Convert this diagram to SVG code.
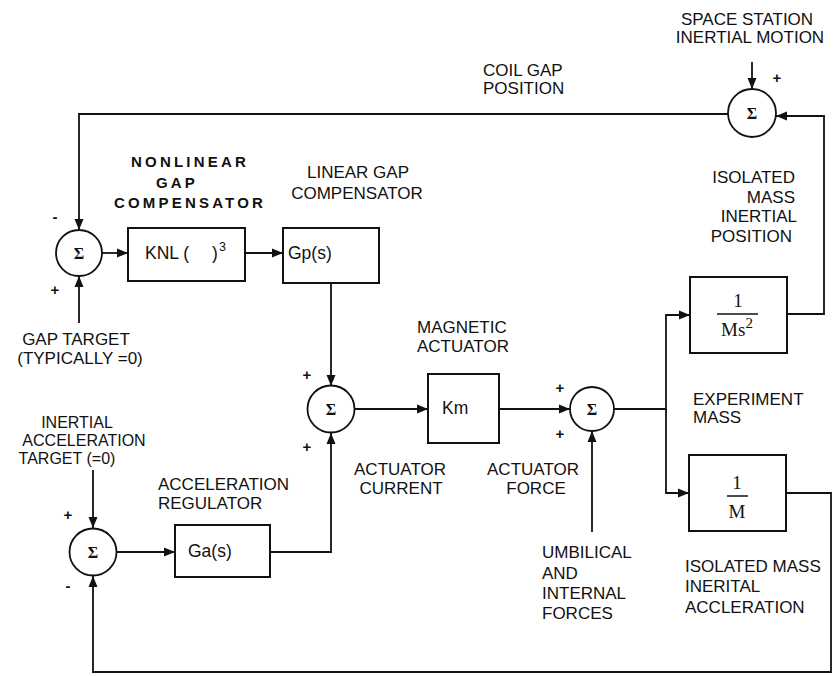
<svg xmlns="http://www.w3.org/2000/svg" width="834" height="676" viewBox="0 0 834 676">
<style>
.bg{fill:#fff}
.box{fill:#fff;stroke:#111;stroke-width:2}
.sum{fill:#fff;stroke:#111;stroke-width:1.8}
.wire{fill:none;stroke:#111;stroke-width:1.8}
.lbl{font-family:"Liberation Sans",Arial,sans-serif;font-size:17px;fill:#111}
.sm{font-size:16px}
.bold{font-family:"Liberation Sans",Arial,sans-serif;font-size:15px;font-weight:bold;letter-spacing:3.2px;fill:#111}
.sig{font-family:"Liberation Serif","Times New Roman",serif;font-size:16px;font-weight:bold;fill:#111;text-anchor:middle}
.pm{font-family:"Liberation Sans",Arial,sans-serif;font-size:15px;font-weight:bold;fill:#111;text-anchor:middle}
.btx{font-family:"Liberation Sans",Arial,sans-serif;font-size:17.5px;fill:#111}
.frac{font-family:"Liberation Serif","Times New Roman",serif;font-size:19px;fill:#111;text-anchor:middle}
.mid{text-anchor:middle}
.end{text-anchor:end}
</style>
<defs>
<marker id="arr" markerUnits="userSpaceOnUse" markerWidth="12" markerHeight="10" refX="11" refY="5" orient="auto">
<path d="M0,0.5 L11,5 L0,9.5 Z" fill="#111"/>
</marker>
</defs>
<rect class="bg" x="0" y="0" width="834" height="676"/>

<g id="connectors">
<path class="wire" d="M728,114 H79 V230" marker-end="url(#arr)"/>
<path class="wire" d="M79,323 V276" marker-end="url(#arr)"/>
<path class="wire" d="M102,253 H128" marker-end="url(#arr)"/>
<path class="wire" d="M245,253 H283" marker-end="url(#arr)"/>
<path class="wire" d="M331,283 V386" marker-end="url(#arr)"/>
<path class="wire" d="M355,409 H428" marker-end="url(#arr)"/>
<path class="wire" d="M499,409 H570" marker-end="url(#arr)"/>
<path class="wire" d="M614,409 H666 V315 H690" marker-end="url(#arr)"/>
<path class="wire" d="M666,409 V493 H689" marker-end="url(#arr)"/>
<path class="wire" d="M592,532 V431" marker-end="url(#arr)"/>
<path class="wire" d="M787,314 H824 V116 H776" marker-end="url(#arr)"/>
<path class="wire" d="M752,62 V89" marker-end="url(#arr)"/>
<path class="wire" d="M786,493 H831 V672 H93 V576" marker-end="url(#arr)"/>
<path class="wire" d="M93,470 V528" marker-end="url(#arr)"/>
<path class="wire" d="M116,552 H175" marker-end="url(#arr)"/>
<path class="wire" d="M270,552 H331 V433" marker-end="url(#arr)"/>
</g>

<g id="sum_gap">
<circle class="sum" cx="79" cy="253" r="23"/>
<text class="sig" x="79" y="258.5">Σ</text>
<text class="pm" x="55" y="222">-</text>
<text class="pm" x="55" y="295">+</text>
</g>

<g id="nonlinear_comp">
<rect class="box" x="128" y="228" width="117" height="53"/>
<text class="btx" x="145" y="259">KNL (<tspan x="212">)</tspan><tspan x="219" y="251" font-size="12.5">3</tspan></text>
<text class="bold mid" x="190" y="167">NONLINEAR</text>
<text class="bold mid" x="177" y="188">GAP</text>
<text class="bold mid" x="190" y="208">COMPENSATOR</text>
</g>

<g id="linear_comp">
<rect class="box" x="283" y="228" width="96" height="55"/>
<text class="btx" x="288" y="259">Gp(s)</text>
<text class="lbl mid" x="358" y="178">LINEAR GAP</text>
<text class="lbl mid" x="357" y="199">COMPENSATOR</text>
</g>

<g id="sum_current">
<circle class="sum" cx="331" cy="409" r="23.5"/>
<text class="sig" x="331" y="414.5">Σ</text>
<text class="pm" x="307" y="380">+</text>
<text class="pm" x="307" y="452">+</text>
</g>

<g id="actuator">
<rect class="box" x="428" y="374" width="71" height="69"/>
<text class="btx" x="442" y="414">Km</text>
<text class="lbl" x="417" y="333">MAGNETIC</text>
<text class="lbl" x="417" y="352">ACTUATOR</text>
</g>

<g id="sum_force">
<circle class="sum" cx="592" cy="409" r="22"/>
<text class="sig" x="592" y="414.5">Σ</text>
<text class="pm" x="560" y="393">+</text>
<text class="pm" x="560" y="439">+</text>
</g>

<g id="mass_position">
<rect class="box" x="690" y="277" width="97" height="76"/>
<text class="frac" x="738" y="307">1</text>
<line x1="717" y1="314" x2="758" y2="314" stroke="#111" stroke-width="1.5"/>
<text class="frac" x="737" y="336">Ms<tspan dy="-8" font-size="15">2</tspan></text>
</g>

<g id="mass_accel">
<rect class="box" x="689" y="455" width="97" height="76"/>
<text class="frac" x="737" y="489">1</text>
<line x1="727" y1="496" x2="748" y2="496" stroke="#111" stroke-width="1.5"/>
<text class="frac" x="737" y="518">M</text>
</g>

<g id="sum_station">
<circle class="sum" cx="752" cy="113" r="24"/>
<text class="sig" x="752" y="118.5">Σ</text>
<text class="pm" x="777" y="83">+</text>
</g>

<g id="sum_accel">
<circle class="sum" cx="93" cy="552" r="23.5"/>
<text class="sig" x="93" y="557.5">Σ</text>
<text class="pm" x="68" y="520">+</text>
<text class="pm" x="68" y="591">-</text>
</g>

<g id="accel_regulator">
<rect class="box" x="175" y="525" width="95" height="52"/>
<text class="btx" x="188" y="557">Ga(s)</text>
<text class="lbl" x="158" y="490">ACCELERATION</text>
<text class="lbl" x="158" y="509">REGULATOR</text>
</g>

<g id="labels">
<text class="lbl mid" x="747" y="25">SPACE STATION</text>
<text class="lbl mid" x="750" y="43">INERTIAL MOTION</text>
<text class="lbl" x="483" y="76">COIL GAP</text>
<text class="lbl" x="483" y="94">POSITION</text>
<text class="lbl end" x="795" y="183">ISOLATED</text>
<text class="lbl end" x="795" y="203">MASS</text>
<text class="lbl end" x="797" y="222">INERTIAL</text>
<text class="lbl end" x="792" y="242">POSITION</text>
<text class="lbl mid" x="76" y="345">GAP TARGET</text>
<text class="lbl mid" x="80" y="364">(TYPICALLY =0)</text>
<text class="lbl sm mid" x="77" y="428">INERTIAL</text>
<text class="lbl sm mid" x="84" y="446">ACCELERATION</text>
<text class="lbl sm mid" x="67" y="464">TARGET (=0)</text>
<text class="lbl" x="693" y="405">EXPERIMENT</text>
<text class="lbl" x="693" y="423">MASS</text>
<text class="lbl mid" x="400" y="475">ACTUATOR</text>
<text class="lbl mid" x="401" y="494">CURRENT</text>
<text class="lbl mid" x="533" y="475">ACTUATOR</text>
<text class="lbl mid" x="536" y="494">FORCE</text>
<text class="lbl" x="542" y="558">UMBILICAL</text>
<text class="lbl" x="542" y="579">AND</text>
<text class="lbl" x="542" y="599">INTERNAL</text>
<text class="lbl" x="542" y="619">FORCES</text>
<text class="lbl" x="685" y="572">ISOLATED MASS</text>
<text class="lbl" x="685" y="592">INERITAL</text>
<text class="lbl" x="685" y="613">ACCLERATION</text>
</g>
</svg>
